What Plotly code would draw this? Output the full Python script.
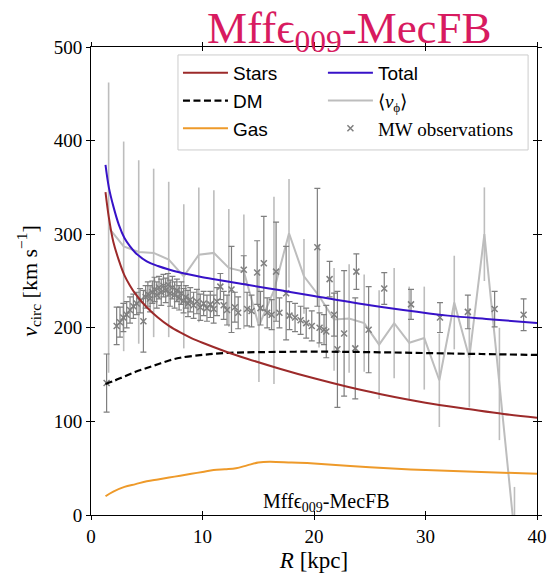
import plotly.graph_objects as go

# ---------------- data ----------------
R_stars = [1.3, 1.6, 2.0, 2.5, 3.0, 3.5, 4.0, 5.0, 6.0, 7.0, 8.0, 9.0, 10.0, 12.0, 14.0, 17.0, 20.0, 23.0, 26.0, 30.0, 34.0, 37.0, 40.0]
v_stars = [345, 318, 292, 272, 256, 245, 236, 222, 211, 202, 195, 189, 184, 175, 167, 156, 146, 137, 129, 120, 113, 108, 104]

R_total = [1.3, 1.6, 2.0, 2.5, 3.0, 3.5, 4.0, 5.0, 6.0, 8.0, 10.0, 12.0, 14.0, 17.0, 20.0, 24.0, 28.0, 32.0, 36.0, 40.0]
v_total = [374, 350, 330, 310, 296, 287, 280, 271, 266, 259, 254, 250, 246, 240, 234, 226, 219, 213, 209, 205]

R_dm = [1.3, 2.0, 3.0, 4.0, 5.0, 6.0, 7.0, 8.0, 10.0, 12.0, 15.0, 20.0, 25.0, 30.0, 35.0, 40.0]
v_dm = [140, 143, 148, 153, 157, 161, 165, 168, 171, 173, 174, 174.5, 174, 173, 172, 171]

R_gas = [1.3, 2.0, 3.0, 4.0, 5.0, 6.0, 7.0, 8.0, 9.0, 10.0, 11.0, 12.0, 13.0, 14.0, 15.0, 16.0, 18.0, 20.0, 25.0, 30.0, 35.0, 40.0]
v_gas = [20, 25, 30, 33, 36, 38, 40, 42, 44, 46, 48, 49, 50, 53, 56, 57, 56, 55, 51, 48, 46, 44]

R_vphi = [1.58, 2.93, 4.28, 5.62, 6.97, 8.32, 9.67, 11.02, 12.36, 13.71, 15.06, 16.41, 17.76, 19.10,
          20.45, 21.80, 23.15, 24.50, 25.84, 27.19, 28.54, 29.89, 31.24, 32.58, 33.93, 35.28, 36.63, 37.98]
v_vphi = [307, 287, 281, 280, 273, 255, 278, 280, 264, 260, 202, 240, 301, 255,
          234, 209, 210, 205, 182, 205, 184, 189, 144, 227, 168, 300, 140, -20]
e_vphi = [155, 112, 98, 90, 83, 77, 72, 67, 63, 61, 60, 100, 58, 40,
          55, 55, 58, 52, 58, 59, 60, 55, 50, 50, 53, 50, 60, 50]

R_mw = [1.4, 2.3, 2.6, 2.9, 3.2, 3.5, 3.8, 4.1, 4.4, 4.7, 4.9, 5.1, 5.3, 5.5, 5.7, 5.9, 6.1, 6.3, 6.5, 6.7,
        6.9, 7.1, 7.3, 7.5, 7.7, 7.9, 8.1, 8.3, 8.5, 8.7, 8.9, 9.2, 9.5, 9.8, 10.1, 10.4, 10.7, 11.0, 11.3, 11.6,
        11.9, 12.2, 12.6, 12.9, 13.2, 13.7, 14.0, 14.4, 14.9, 15.2, 15.5, 15.8, 16.2, 16.6, 16.9, 17.5, 17.8, 18.3,
        18.8, 19.3, 19.8, 20.3, 20.5, 20.9, 21.1, 21.4, 21.8, 22.1, 22.7, 23.7, 23.8, 24.9, 26.3, 28.7, 31.3,
        33.8, 36.2, 38.8]
v_mw = [141, 202, 206, 211, 214, 219, 223, 226, 229, 207, 233, 236, 231, 238, 241, 235, 243, 238, 245, 240,
        246, 237, 243, 235, 240, 232, 237, 229, 233, 226, 230, 224, 228, 222, 226, 221, 225, 220, 228, 244,
        224, 219, 241, 222, 216, 262, 220, 218, 259, 221, 269, 216, 214, 260, 216, 237, 213, 211,
        208, 205, 202, 286, 200, 198, 196, 252, 214, 177, 194, 178, 260, 198, 242, 225, 211,
        217, 220, 214]
e_mw = [31, 20, 16, 15, 14, 14, 13, 12, 13, 33, 12, 13, 14, 12, 13, 14, 12, 14, 12, 13,
        12, 14, 12, 14, 12, 13, 12, 13, 12, 14, 13, 14, 13, 14, 13, 14, 14, 15, 15, 14,
        15, 16, 46, 16, 17, 15, 18, 17, 34, 18, 50, 16, 16, 53, 16, 50, 15, 15,
        15, 16, 16, 63, 16, 16, 28, 19, 23, 62, 67, 54, 19, 46, 17, 16, 16,
        18, 19, 17]

x_ticks = [0, 10, 20, 30, 40]
y_ticks = [0, 100, 200, 300, 400, 500]

title_text = "Mff\u03f5<sub>009</sub>-MecFB"

SERIF = "Liberation Serif"
SANS = "Liberation Sans"

fig = go.Figure()

fig.add_trace(go.Scatter(
    x=R_vphi, y=v_vphi, mode="lines", name=f'<span style="font-family:{SERIF}">\u27e8<i>v</i><sub>\u03d5</sub>\u27e9</span>',
    line=dict(color="#bdbdbd", width=2),
    error_y=dict(type="data", array=e_vphi, color="#bdbdbd", thickness=1.6, width=0),
    legend="legend2", legendrank=2,
))
fig.add_trace(go.Scatter(
    x=R_mw, y=v_mw, mode="markers", name=f'<span style="font-family:{SERIF}">MW observations</span>',
    marker=dict(symbol="x-thin", size=6, color="#7f7f7f", line=dict(color="#7f7f7f", width=1.5)),
    error_y=dict(type="data", array=e_mw, color="#7f7f7f", thickness=1.2, width=3),
    legend="legend2", legendrank=3,
))
fig.add_trace(go.Scatter(x=R_gas, y=v_gas, mode="lines", name="Gas",
                         line=dict(color="#ee9a2a", width=2, shape="spline"), legend="legend", legendrank=3))
fig.add_trace(go.Scatter(x=R_dm, y=v_dm, mode="lines", name="DM",
                         line=dict(color="black", width=2.2, dash="7px,3.5px", shape="spline"), legend="legend", legendrank=2))
fig.add_trace(go.Scatter(x=R_stars, y=v_stars, mode="lines", name="Stars",
                         line=dict(color="#9c2a2a", width=2, shape="spline"), legend="legend", legendrank=1))
fig.add_trace(go.Scatter(x=R_total, y=v_total, mode="lines", name="Total",
                         line=dict(color="#3712c8", width=2, shape="spline"), legend="legend2", legendrank=1))

axis_common = dict(showgrid=False, zeroline=False, showline=True, linecolor="black", linewidth=1,
                   ticks="outside", ticklen=4, tickwidth=1, tickcolor="black", mirror="allticks")

legend_common = dict(orientation="v", xanchor="left", yanchor="top", itemwidth=45,
                     font=dict(family=SANS, size=19, color="black"),
                     bgcolor="rgba(0,0,0,0)", borderwidth=0, tracegroupgap=0)

fig.update_layout(
    width=556, height=578,
    margin=dict(l=91, r=9, t=47, b=62),
    paper_bgcolor="white", plot_bgcolor="white",
    font=dict(family=SERIF, size=19, color="black"),
    xaxis=dict(range=[0, 40], tickvals=x_ticks, **axis_common,
               title=dict(text="<i>R</i> [kpc]", font=dict(size=23, family=SERIF), standoff=6)),
    yaxis=dict(range=[0, 500], tickvals=y_ticks, **axis_common,
               title=dict(text="<i>v</i><sub>circ</sub> [km s<sup>\u22121</sup>]", font=dict(size=22, family=SERIF), standoff=10)),
    xaxis2=dict(range=[0, 40], tickvals=x_ticks, overlaying="x", showgrid=False, zeroline=False,
                showline=False, ticks="inside", ticklen=4, tickcolor="black", mirror="allticks",
                showticklabels=False),
    yaxis2=dict(range=[0, 500], tickvals=y_ticks, overlaying="y", showgrid=False, zeroline=False,
                showline=False, ticks="inside", ticklen=4, tickcolor="black", mirror="allticks",
                showticklabels=False),
    legend=dict(x=0.195, y=0.985, **legend_common),
    legend2=dict(x=0.52, y=0.985, **legend_common),
    showlegend=True,
)

# legend frame
fig.add_shape(type="rect", xref="paper", yref="paper", x0=0.195, x1=0.980, y0=0.780, y1=0.983,
              line=dict(color="#cccccc", width=1), fillcolor="rgba(255,255,255,0.8)", layer="above")

# dummy invisible trace so overlay axes are drawn
fig.add_trace(go.Scatter(x=[None], y=[None], xaxis="x2", yaxis="y2", showlegend=False, hoverinfo="skip"))

fig.add_annotation(text=title_text, xref="paper", yref="paper", x=0.58, y=1.0, xanchor="center", yanchor="bottom",
                   showarrow=False, font=dict(family=SERIF, size=45, color="#d81b60"), yshift=-14)
fig.add_annotation(text=title_text, xref="x", yref="paper", x=21.1, y=0.0, xanchor="center", yanchor="bottom",
                   showarrow=False, font=dict(family=SERIF, size=20, color="black"), yshift=-2)

fig.write_html("out.html")
